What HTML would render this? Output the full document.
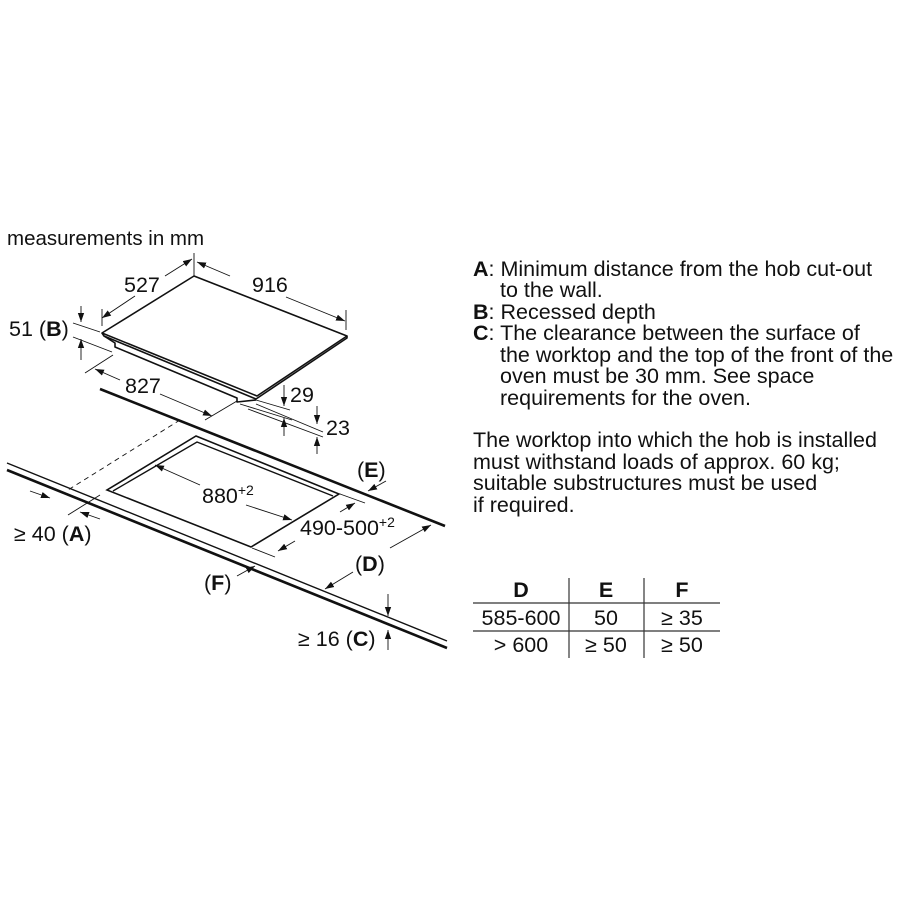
<!DOCTYPE html>
<html><head><meta charset="utf-8"><style>
body{margin:0;background:#fff;}
svg{display:block;font-family:"Liberation Sans",Arial,sans-serif;}
text{font-size:21.5px;fill:#111;}
</style></head><body>
<svg width="900" height="900" viewBox="0 0 900 900" xmlns="http://www.w3.org/2000/svg">
<defs>
<marker id="a" viewBox="0 0 10 10" refX="10" refY="5" markerWidth="9" markerHeight="9" markerUnits="userSpaceOnUse" orient="auto"><path d="M0,1.5 L10,5 L0,8.5 z" fill="#111"/></marker>
</defs>
<text x="7" y="245" style="font-size:20.5px">measurements in mm</text>

<!-- hob -->
<g stroke="#111" fill="none" stroke-width="1.6" stroke-linejoin="round">
<path d="M194,276 L347,336 L257,396 L102,333 Z" fill="#fff"/>
<path d="M102,333 L104,336 L256,399 L347,338 L347,336"/>
<path d="M104,336 L115,343 L115,347 L237,398 L237,402 L256,400"/>
</g>
<!-- dims on hob -->
<g stroke="#111" stroke-width="0.9" fill="none">
<line x1="194" y1="253" x2="194" y2="276"/>
<line x1="102" y1="309" x2="102" y2="326"/>
<line x1="346" y1="310" x2="346" y2="330"/>
<line x1="135" y1="296" x2="102" y2="318" marker-end="url(#a)"/>
<line x1="165" y1="276" x2="192" y2="259" marker-end="url(#a)"/>
<line x1="230" y1="276" x2="197" y2="262" marker-end="url(#a)"/>
<line x1="286" y1="297" x2="345" y2="321" marker-end="url(#a)"/>
<line x1="73" y1="323" x2="100" y2="332"/>
<line x1="73" y1="337" x2="112" y2="352"/>
<line x1="81" y1="306" x2="81" y2="322" marker-end="url(#a)"/>
<line x1="81" y1="360" x2="81" y2="339" marker-end="url(#a)"/>
<line x1="85" y1="373" x2="113" y2="355"/>
<line x1="205" y1="420" x2="237" y2="401"/>
<line x1="120" y1="380" x2="95" y2="369" marker-end="url(#a)"/>
<line x1="160" y1="394" x2="212" y2="416" marker-end="url(#a)"/>
<line x1="256" y1="400" x2="290" y2="410"/>
<line x1="240" y1="404" x2="292" y2="420"/>
<line x1="284" y1="385" x2="284" y2="406" marker-end="url(#a)"/>
<line x1="284" y1="436" x2="284" y2="418" marker-end="url(#a)"/>
<line x1="256" y1="404" x2="323" y2="432"/>
<line x1="248" y1="409" x2="323" y2="437"/>
<line x1="317" y1="406" x2="317" y2="424" marker-end="url(#a)"/>
<line x1="317" y1="454" x2="317" y2="437" marker-end="url(#a)"/>
</g>
<text x="124" y="292">527</text>
<text x="252" y="292">916</text>
<text x="9" y="336">51 (<tspan font-weight="bold">B</tspan>)</text>
<text x="125" y="393">827</text>
<text x="290" y="402">29</text>
<text x="326" y="435">23</text>

<!-- worktop -->
<g stroke="#111" fill="none">
<line x1="100" y1="389" x2="445" y2="526" stroke-width="2.6"/>
<line x1="7" y1="463" x2="447" y2="641" stroke-width="1.4"/>
<line x1="7" y1="470" x2="447" y2="648" stroke-width="2.6"/>
<line x1="180" y1="420" x2="68" y2="490" stroke-width="0.9" stroke-dasharray="5,4"/>
<line x1="68" y1="515" x2="100" y2="495" stroke-width="0.9"/>
<line x1="30" y1="491" x2="50" y2="498" stroke-width="0.9" marker-end="url(#a)"/>
<line x1="100" y1="519" x2="80" y2="512" stroke-width="0.9" marker-end="url(#a)"/>
<!-- cutout -->
<path d="M196,436 L339,494 L251,547 L107,490 Z" stroke-width="1.6"/>
<path d="M113,491 L197,442 L333,496" stroke-width="1.4"/>
<line x1="340" y1="494" x2="365" y2="503" stroke-width="0.9"/>
<line x1="252" y1="548" x2="275" y2="557" stroke-width="0.9"/>
<line x1="200" y1="485" x2="155" y2="465" stroke-width="0.9" marker-end="url(#a)"/>
<line x1="246" y1="505" x2="292" y2="520" stroke-width="0.9" marker-end="url(#a)"/>
<line x1="340" y1="512" x2="355" y2="503" stroke-width="0.9" marker-end="url(#a)"/>
<line x1="295" y1="541" x2="278" y2="551" stroke-width="0.9" marker-end="url(#a)"/>
<line x1="386" y1="481" x2="368" y2="491" stroke-width="0.9" marker-end="url(#a)"/>
<line x1="390" y1="548" x2="431" y2="525" stroke-width="0.9" marker-end="url(#a)"/>
<line x1="353" y1="572" x2="325" y2="589" stroke-width="0.9" marker-end="url(#a)"/>
<line x1="237" y1="576" x2="255" y2="566" stroke-width="0.9" marker-end="url(#a)"/>
<line x1="388" y1="594" x2="388" y2="616" stroke-width="0.9" marker-end="url(#a)"/>
<line x1="388" y1="650" x2="388" y2="630" stroke-width="0.9" marker-end="url(#a)"/>
</g>
<text x="14" y="541">≥ 40 (<tspan font-weight="bold">A</tspan>)</text>
<text x="202" y="503">880<tspan dy="-8" style="font-size:14px">+2</tspan></text>
<text x="300" y="535">490-500<tspan dy="-8" style="font-size:14px">+2</tspan></text>
<text x="357" y="477">(<tspan font-weight="bold">E</tspan>)</text>
<text x="355" y="571">(<tspan font-weight="bold">D</tspan>)</text>
<text x="204" y="590">(<tspan font-weight="bold">F</tspan>)</text>
<text x="298" y="646">≥ 16 (<tspan font-weight="bold">C</tspan>)</text>

<!-- right text -->
<g>
<text x="473" y="276"><tspan font-weight="bold">A</tspan>: Minimum distance from the hob cut-out</text>
<text x="500" y="297">to the wall.</text>
<text x="473" y="319"><tspan font-weight="bold">B</tspan>: Recessed depth</text>
<text x="473" y="340"><tspan font-weight="bold">C</tspan>: The clearance between the surface of</text>
<text x="500" y="362">the worktop and the top of the front of the</text>
<text x="500" y="383">oven must be 30 mm. See space</text>
<text x="500" y="405">requirements for the oven.</text>
<text x="473" y="447">The worktop into which the hob is installed</text>
<text x="473" y="469">must withstand loads of approx. 60 kg;</text>
<text x="473" y="490">suitable substructures must be used</text>
<text x="473" y="512">if required.</text>
</g>
<!-- table -->
<g stroke="#333" stroke-width="1.2">
<line x1="473" y1="603" x2="720" y2="603"/>
<line x1="473" y1="631" x2="720" y2="631"/>
<line x1="569" y1="578" x2="569" y2="658"/>
<line x1="644" y1="578" x2="644" y2="658"/>
</g>
<g text-anchor="middle">
<text x="521" y="597" font-weight="bold">D</text>
<text x="606" y="597" font-weight="bold">E</text>
<text x="682" y="597" font-weight="bold">F</text>
<text x="521" y="625">585-600</text>
<text x="606" y="625">50</text>
<text x="682" y="625">≥ 35</text>
<text x="521" y="652">&gt; 600</text>
<text x="606" y="652">≥ 50</text>
<text x="682" y="652">≥ 50</text>
</g>
</svg>
</body></html>
